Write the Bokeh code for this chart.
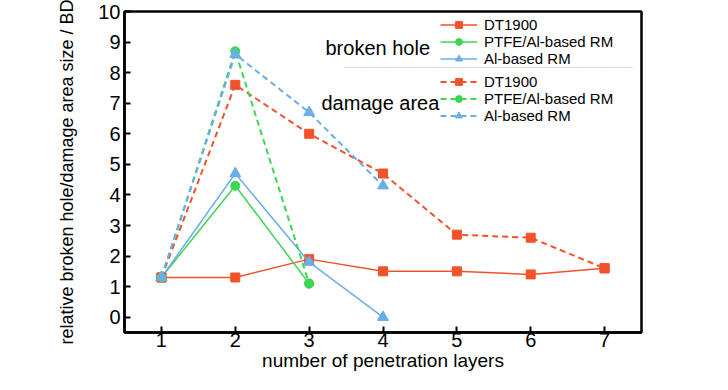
from bokeh.plotting import figure
from bokeh.models import (Range1d, FixedTicker, Label, Legend, LegendItem,
                          BoxAnnotation)
from bokeh.embed import file_html
from bokeh.resources import INLINE

FONT = "Liberation Sans"

# ---- data ----
layers = [1, 2, 3, 4, 5, 6, 7]
hole_dt1900 = [1.3, 1.3, 1.9, 1.5, 1.5, 1.4, 1.6]
hole_ptfe = [1.3, 4.3, 1.1]
hole_al = [1.3, 4.7, 1.8, 0.0]
area_dt1900 = [1.3, 7.6, 6.0, 4.7, 2.7, 2.6, 1.6]
area_ptfe = [1.3, 8.7, 1.1]
area_al = [1.3, 8.6, 6.7, 4.3]
series_names = ["DT1900", "PTFE/Al-based RM", "Al-based RM"]
x_ticks = [1, 2, 3, 4, 5, 6, 7]
y_ticks = [0, 1, 2, 3, 4, 5, 6, 7, 8, 9, 10]

RED = "#F2522A"
GREEN = "#3CD655"
BLUE = "#6AAEE8"

p = figure(width=712, height=374, output_backend="svg", toolbar_location=None,
           x_range=Range1d(0.5, 7.5), y_range=Range1d(-0.5, 10),
           min_border_left=124, min_border_right=71,
           min_border_top=11, min_border_bottom=42)
p.grid.visible = False
p.outline_line_color = "black"
p.outline_line_width = 2.5
p.background_fill_color = "white"
p.border_fill_color = "white"

for ax in (p.xaxis[0], p.yaxis[0]):
    ax.axis_line_width = 2.5
    ax.axis_line_color = "black"
    ax.major_tick_in = 6
    ax.major_tick_out = 0
    ax.major_tick_line_width = 2
    ax.minor_tick_line_color = None
    ax.major_label_text_font = FONT
    ax.major_label_text_font_size = "20px"
    ax.major_label_text_color = "black"
    ax.axis_label_text_font = FONT
    ax.axis_label_text_font_style = "normal"
    ax.axis_label_text_color = "black"
p.xaxis.ticker = FixedTicker(ticks=x_ticks)
p.yaxis.ticker = FixedTicker(ticks=y_ticks)
p.xaxis.major_label_standoff = 0
p.yaxis.major_label_standoff = 4
p.xaxis.axis_label = "number of penetration layers"
p.xaxis.axis_label_text_font_size = "19px"
p.xaxis.axis_label_standoff = 0
p.yaxis.axis_label = "relative broken hole/damage area size / BD"
p.yaxis.axis_label_text_font_size = "18px"
p.yaxis.axis_label_standoff = 18


def series(xs, ys, color, marker, size, dashed):
    kw = dict(line_dash="6 4", line_width=2) if dashed else dict(line_width=1.5)
    ln = p.line(xs, ys, line_color=color, **kw)
    sc = p.scatter(xs, ys, marker=marker, size=size, fill_color=color,
                   line_color=color)
    return [ln, sc]


h1 = series(layers[:len(hole_dt1900)], hole_dt1900, RED, "square", 9, False)
h2 = series(layers[:len(hole_ptfe)], hole_ptfe, GREEN, "circle", 9, False)
h3 = series(layers[:len(hole_al)], hole_al, BLUE, "triangle", 11, False)
a1 = series(layers[:len(area_dt1900)], area_dt1900, RED, "square", 9, True)
a2 = series(layers[:len(area_ptfe)], area_ptfe, GREEN, "circle", 9, True)
a3 = series(layers[:len(area_al)], area_al, BLUE, "triangle", 11, True)


def make_legend(groups, loc):
    items = [LegendItem(label=n, renderers=g) for n, g in zip(series_names, groups)]
    lg = Legend(items=items, location=loc, orientation="vertical",
                padding=0, margin=0, spacing=0, glyph_width=37, glyph_height=17,
                label_height=17, label_standoff=7,
                label_text_font=FONT, label_text_font_size="15px",
                label_text_color="black", border_line_alpha=0,
                background_fill_alpha=0)
    p.add_layout(lg, "center")


make_legend([h1, h2, h3], (316, 265))
make_legend([a1, a2, a3], (316, 208))

p.add_layout(Label(x=201, y=285, x_units="screen", y_units="screen",
                   text="broken hole", text_font=FONT, text_font_size="20px",
                   text_color="black", text_baseline="alphabetic"))
p.add_layout(Label(x=197, y=230, x_units="screen", y_units="screen",
                   text="damage area", text_font=FONT, text_font_size="20px",
                   text_color="black", text_baseline="alphabetic"))
p.add_layout(BoxAnnotation(left=220, right=508, top=265, bottom=265,
                           left_units="screen", right_units="screen",
                           top_units="screen", bottom_units="screen",
                           fill_alpha=0, line_color="#555555", line_width=1,
                           line_dash="1 2"))

open("out.html", "w").write(file_html(p, INLINE))
